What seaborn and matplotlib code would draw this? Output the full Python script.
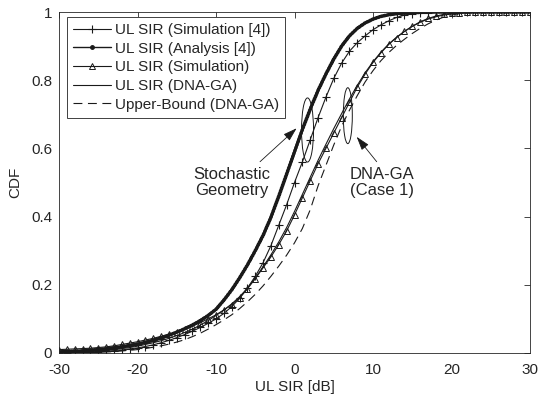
import numpy as np
import pandas as pd
import matplotlib
matplotlib.use("Agg")
import matplotlib.pyplot as plt
import seaborn as sns
from matplotlib.patches import Ellipse
from matplotlib.lines import Line2D

# ---------------- data ----------------
sir_db = list(range(-30, 31))

cdf_analysis_ref = [0.003, 0.004, 0.005, 0.006, 0.008, 0.010, 0.012, 0.015, 0.018, 0.022,
                    0.026, 0.031, 0.037, 0.044, 0.052, 0.061, 0.071, 0.082, 0.095, 0.110,
                    0.128, 0.155, 0.185, 0.220, 0.258, 0.300, 0.345, 0.398, 0.460, 0.525,
                    0.590, 0.655, 0.715, 0.770, 0.818, 0.862, 0.900, 0.930, 0.952, 0.968,
                    0.979, 0.987, 0.992, 0.995, 0.997, 0.998, 0.999, 1.0, 1.0, 1.0,
                    1.0, 1.0, 1.0, 1.0, 1.0, 1.0, 1.0, 1.0, 1.0, 1.0, 1.0]

cdf_sim_ref = [0.001, 0.001, 0.002, 0.002, 0.003, 0.004, 0.005, 0.007, 0.009, 0.012,
               0.015, 0.019, 0.024, 0.030, 0.037, 0.045, 0.054, 0.064, 0.075, 0.087,
               0.100, 0.116, 0.136, 0.160, 0.190, 0.225, 0.265, 0.315, 0.375, 0.435,
               0.500, 0.560, 0.625, 0.690, 0.750, 0.805, 0.850, 0.885, 0.910, 0.930,
               0.948, 0.962, 0.974, 0.984, 0.991, 0.995, 0.997, 0.998, 0.999, 1.0,
               1.0, 1.0, 1.0, 1.0, 1.0, 1.0, 1.0, 1.0, 1.0, 1.0, 1.0]

cdf_sim = [0.010, 0.011, 0.012, 0.013, 0.014, 0.016, 0.018, 0.021, 0.025, 0.029,
           0.033, 0.038, 0.043, 0.049, 0.055, 0.062, 0.070, 0.079, 0.089, 0.100,
           0.112, 0.126, 0.142, 0.162, 0.188, 0.218, 0.250, 0.282, 0.318, 0.358,
           0.405, 0.455, 0.505, 0.555, 0.600, 0.645, 0.690, 0.735, 0.780, 0.818,
           0.852, 0.880, 0.905, 0.925, 0.943, 0.958, 0.971, 0.981, 0.988, 0.993,
           0.996, 0.998, 0.999, 1.0, 1.0, 1.0, 1.0, 1.0, 1.0, 1.0, 1.0]

cdf_dna_ga = [0.002, 0.002, 0.003, 0.004, 0.005, 0.006, 0.008, 0.010, 0.013, 0.016,
              0.020, 0.025, 0.030, 0.036, 0.043, 0.051, 0.060, 0.070, 0.082, 0.095,
              0.110, 0.126, 0.144, 0.165, 0.190, 0.220, 0.253, 0.288, 0.326, 0.368,
              0.415, 0.465, 0.515, 0.565, 0.612, 0.658, 0.702, 0.745, 0.785, 0.822,
              0.854, 0.882, 0.906, 0.926, 0.943, 0.958, 0.970, 0.979, 0.986, 0.991,
              0.994, 0.996, 0.998, 0.999, 1.0, 1.0, 1.0, 1.0, 1.0, 1.0, 1.0]

cdf_upper = [0.000, 0.000, 0.001, 0.001, 0.001, 0.002, 0.003, 0.004, 0.006, 0.008,
             0.010, 0.013, 0.017, 0.021, 0.026, 0.032, 0.039, 0.048, 0.058, 0.070,
             0.083, 0.097, 0.112, 0.130, 0.150, 0.172, 0.197, 0.225, 0.255, 0.287,
             0.323, 0.365, 0.420, 0.490, 0.550, 0.610, 0.665, 0.712, 0.755, 0.795,
             0.828, 0.857, 0.881, 0.902, 0.920, 0.937, 0.952, 0.965, 0.976, 0.985,
             0.991, 0.995, 0.997, 0.999, 1.0, 1.0, 1.0, 1.0, 1.0, 1.0, 1.0]

legend_labels = ["UL SIR (Simulation [4])", "UL SIR (Analysis [4])",
                 "UL SIR (Simulation)", "UL SIR (DNA-GA)", "Upper-Bound (DNA-GA)"]
x_ticks = [-30, -20, -10, 0, 10, 20, 30]
x_tick_labels = ["-30", "-20", "-10", "0", "10", "20", "30"]
y_ticks = [0, 0.2, 0.4, 0.6, 0.8, 1.0]
y_tick_labels = ["0", "0.2", "0.4", "0.6", "0.8", "1"]

df = pd.DataFrame({"sir": sir_db, "ana": cdf_analysis_ref, "simref": cdf_sim_ref,
                   "sim": cdf_sim, "dna": cdf_dna_ga, "ub": cdf_upper})

# ---------------- style ----------------
sns.set_theme(style="white")
plt.rcParams['font.family'] = ['Liberation Sans', 'DejaVu Sans']
plt.rcParams['axes.unicode_minus'] = False
TXT = "#262626"

fig = plt.figure(figsize=(5.42, 4.05), dpi=100)
ax = fig.add_axes([59 / 542, 1 - 353 / 405, 471 / 542, 341 / 405])

LW = 0.8
# Upper bound (dashed)
sns.lineplot(data=df, x="sir", y="ub", ax=ax, color="k", lw=LW, estimator=None,
             linestyle=(0, (8, 5)), legend=False)
# DNA-GA (solid)
sns.lineplot(data=df, x="sir", y="dna", ax=ax, color="k", lw=LW, estimator=None, legend=False)
# Simulation (triangles)
sns.lineplot(data=df, x="sir", y="sim", ax=ax, color="k", lw=LW, estimator=None,
             marker="^", markersize=4.5, markerfacecolor="none", markeredgecolor="k",
             markeredgewidth=0.7, legend=False)
# Simulation [4] (+)
sns.lineplot(data=df, x="sir", y="simref", ax=ax, color="k", lw=LW, estimator=None,
             marker="+", markersize=6, markeredgewidth=0.8, markeredgecolor="k",
             legend=False)
# Analysis [4] (dense dots -> beaded thick line)
sns.lineplot(data=df, x="sir", y="ana", ax=ax, color="k", lw=1.0, estimator=None, legend=False)
sns.lineplot(data=df, x="sir", y="ana", ax=ax, color="k", lw=2.6, estimator=None,
             linestyle=(0, (0.3, 0.55)), dash_capstyle="round", legend=False)

ax.set_xlim(-30, 30)
ax.set_ylim(0, 1)
ax.set_xticks(x_ticks)
ax.set_xticklabels(x_tick_labels)
ax.set_yticks(y_ticks)
ax.set_yticklabels(y_tick_labels)
ax.tick_params(direction="in", top=True, right=True, length=4, width=0.6,
               labelsize=11, colors=TXT)
ax.tick_params(axis="x", pad=7)
ax.tick_params(axis="y", pad=5)
for sp in ax.spines.values():
    sp.set_linewidth(0.6)
    sp.set_color(TXT)
    sp.set_visible(True)
ax.set_xlabel("UL SIR [dB]", fontsize=11, color=TXT, labelpad=2)
ax.set_ylabel("CDF", fontsize=11, color=TXT, labelpad=6)

# legend
handles = [
    Line2D([], [], color="k", lw=LW, marker="+", markersize=6, markeredgewidth=0.8),
    Line2D([], [], color="k", lw=1.0, marker="o", markersize=2.5),
    Line2D([], [], color="k", lw=LW, marker="^", markersize=4.5, markerfacecolor="none",
           markeredgewidth=0.7),
    Line2D([], [], color="k", lw=LW),
    Line2D([], [], color="k", lw=LW, linestyle=(0, (8, 5))),
]
leg = ax.legend(handles, legend_labels, loc="upper left", bbox_to_anchor=(0.017, 0.985),
                borderaxespad=0, fontsize=11, handlelength=2.5, handletextpad=0.25,
                labelspacing=0.3, borderpad=0.4, frameon=True, fancybox=False,
                edgecolor="#404040", framealpha=1, numpoints=1)
leg.get_frame().set_linewidth(0.7)
for t in leg.get_texts():
    t.set_color(TXT)

# annotations
ax.add_patch(Ellipse((1.66, 0.654), width=1.53, height=0.188, fill=False, lw=0.7, ec="k"))
ax.add_patch(Ellipse((6.79, 0.696), width=1.15, height=0.164, fill=False, lw=0.7, ec="k"))
arrow = dict(arrowstyle="-|>,head_length=0.7,head_width=0.22", color="k", lw=0.6,
             shrinkA=0, shrinkB=0)
ax.annotate("", xy=(0.27, 0.659), xytext=(-4.39, 0.561), arrowprops=arrow)
ax.annotate("", xy=(7.92, 0.634), xytext=(10.47, 0.561), arrowprops=arrow)
ax.text(-7.96, 0.5, "Stochastic\nGeometry", ha="center", va="center", fontsize=12,
        color=TXT, linespacing=1.15)
ax.text(11.15, 0.5, "DNA-GA\n(Case 1)", ha="center", va="center", fontsize=12,
        color=TXT, linespacing=1.15)

fig.savefig("out.png", dpi=100, facecolor="white")
